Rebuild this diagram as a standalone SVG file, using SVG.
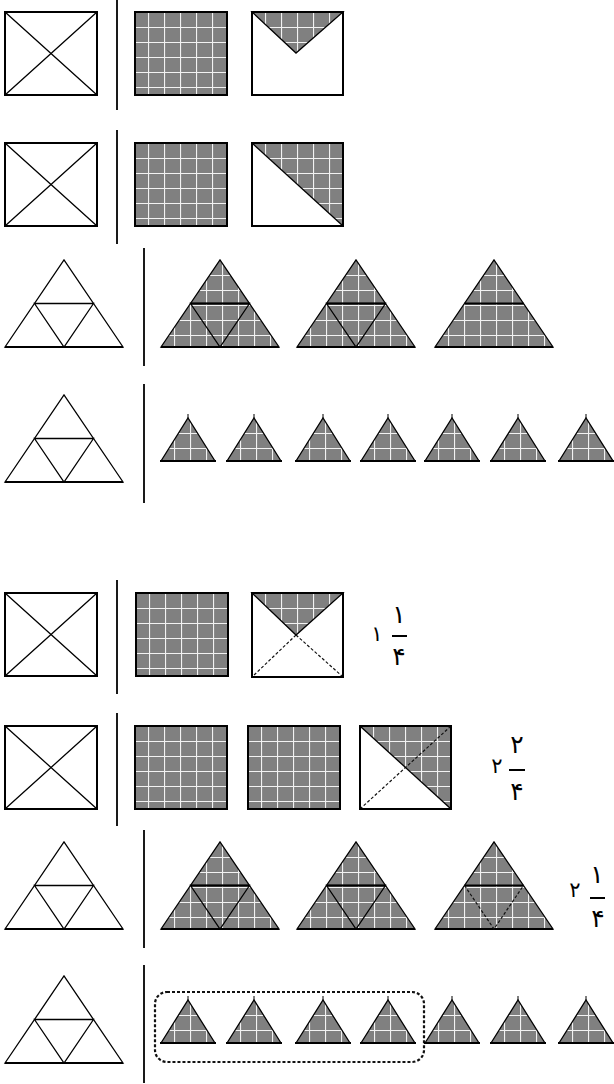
<svg xmlns="http://www.w3.org/2000/svg" xmlns:xlink="http://www.w3.org/1999/xlink" width="614" height="1084" viewBox="0 0 614 1084">
<style>
.ol{fill:none;stroke:#000;stroke-width:2}
.th{fill:none;stroke:#000;stroke-width:1.3}
.gf{fill:url(#grid)}
.wf{fill:#fff}
.ds{fill:none;stroke:#111;stroke-width:1.2;stroke-dasharray:3 2}
.dv{stroke:#1a1a1a;stroke-width:2}
.num{font-family:"DejaVu Sans","Noto Sans",sans-serif;font-size:25px;fill:#000;text-anchor:middle}
.bar{stroke:#000;stroke-width:2}
</style>
<defs>
<pattern id="grid" patternUnits="userSpaceOnUse" width="16" height="15" x="-3" y="0">
<rect width="16" height="15" fill="#808080"/>
<path d="M0.5 0V15M0 0.5H16" stroke="#f2f2f2" stroke-width="1.2"/>
</pattern>
<g id="sqX">
<rect x="0" y="0" width="92" height="83" fill="#fff"/>
<rect x="0" y="0" width="92" height="83" class="ol"/>
<path d="M0 0L92 83M92 0L0 83" class="th"/>
</g>
<g id="sqG">
<rect x="0" y="0" width="92" height="83" fill="url(#grid)" stroke="#000" stroke-width="2"/>
</g>
<g id="bigT">
<polygon points="0,87 59,0 118,87" fill="#fff" stroke="#000" stroke-width="1.3"/>
<path d="M29.5 43.5H88.5L59 87Z" class="th"/>
<path d="M0 87H118" stroke="#000" stroke-width="1.8"/>
</g>
<g id="gT">
<polygon points="0,87 59,0 118,87" fill="url(#grid)" stroke="#000" stroke-width="1.3"/>
<path d="M0 87H118" stroke="#000" stroke-width="2"/>
</g>
<g id="gTfull">
<use xlink:href="#gT"/>
<path d="M29.5 43.5H88.5L59 87Z" class="th"/>
<path d="M29.5 43.5H88.5" stroke="#000" stroke-width="1.8"/>
</g>
<g id="smT">
<polygon points="0,43 27,0 54,43" fill="url(#grid)" stroke="#000" stroke-width="1.3"/>
<path d="M27 0V-4" stroke="#000" stroke-width="1"/>
<path d="M-1 43H55" stroke="#000" stroke-width="2"/>
</g>
</defs>
<rect width="614" height="1084" fill="#fff"/>

<g id="dividers">
<line x1="117" y1="0" x2="117" y2="110" class="dv"/>
<line x1="117" y1="130" x2="117" y2="244" class="dv"/>
<line x1="144" y1="248" x2="144" y2="366" class="dv"/>
<line x1="144" y1="384" x2="144" y2="503" class="dv"/>
<line x1="117" y1="580" x2="117" y2="694" class="dv"/>
<line x1="117" y1="713" x2="117" y2="826" class="dv"/>
<line x1="144" y1="830" x2="144" y2="948" class="dv"/>
<line x1="144" y1="965" x2="144" y2="1083" class="dv"/>
</g>

<!-- Row 1 -->
<g id="r1-whole" transform="translate(5,12)"><use xlink:href="#sqX"/></g>
<g id="r1-full" transform="translate(135,12)"><use xlink:href="#sqG"/></g>
<g id="r1-part" transform="translate(252,12)">
<rect x="0" y="0" width="91" height="83" fill="#fff"/>
<polygon points="0,0 91,0 44,41" fill="url(#grid)" stroke="#000" stroke-width="1.3"/>
<rect x="0" y="0" width="91" height="83" class="ol"/>
</g>

<!-- Row 2 -->
<g id="r2-whole" transform="translate(5,143)"><use xlink:href="#sqX"/></g>
<g id="r2-full" transform="translate(135,143)"><use xlink:href="#sqG"/></g>
<g id="r2-part" transform="translate(252,143)">
<rect x="0" y="0" width="91" height="83" fill="#fff"/>
<polygon points="0,0 91,0 91,83" fill="url(#grid)"/>
<path d="M0 0L91 83" class="th"/>
<rect x="0" y="0" width="91" height="83" class="ol"/>
</g>

<!-- Row 3 -->
<g id="r3-whole" transform="translate(5,260)"><use xlink:href="#bigT"/></g>
<g id="r3-t1" transform="translate(161,260)"><use xlink:href="#gTfull"/></g>
<g id="r3-t2" transform="translate(297,260)"><use xlink:href="#gTfull"/></g>
<g id="r3-t3" transform="translate(435,260)"><use xlink:href="#gT"/><path d="M29.5 43.5H88.5" stroke="#000" stroke-width="1.8"/></g>

<!-- Row 4 -->
<g id="r4-whole" transform="translate(5,395)"><use xlink:href="#bigT"/></g>
<g id="r4-s1" transform="translate(161,418)"><use xlink:href="#smT"/></g>
<g id="r4-s2" transform="translate(227,418)"><use xlink:href="#smT"/></g>
<g id="r4-s3" transform="translate(296,418)"><use xlink:href="#smT"/></g>
<g id="r4-s4" transform="translate(361,418)"><use xlink:href="#smT"/></g>
<g id="r4-s5" transform="translate(425,418)"><use xlink:href="#smT"/></g>
<g id="r4-s6" transform="translate(491,418)"><use xlink:href="#smT"/></g>
<g id="r4-s7" transform="translate(559,418)"><use xlink:href="#smT"/></g>

<!-- Row 5 -->
<g id="r5-whole" transform="translate(5,593)"><use xlink:href="#sqX"/></g>
<g id="r5-full" transform="translate(136,593)"><use xlink:href="#sqG"/></g>
<g id="r5-part" transform="translate(252,593)">
<rect x="0" y="0" width="91" height="84" fill="#fff"/>
<polygon points="0,0 91,0 44,42" fill="url(#grid)" stroke="#000" stroke-width="1.3"/>
<path d="M44 42L0 84M44 42L91 84" class="ds"/>
<rect x="0" y="0" width="91" height="84" class="ol"/>
</g>
<g id="r5-frac">
<text x="377" y="641" class="num" style="font-size:21px">۱</text>
<text x="399" y="623" class="num">۱</text>
<line x1="392" y1="636" x2="407" y2="636" class="bar"/>
<text x="399" y="665" class="num">۴</text>
</g>

<!-- Row 6 -->
<g id="r6-whole" transform="translate(5,726)"><use xlink:href="#sqX"/></g>
<g id="r6-full1" transform="translate(135,726)"><use xlink:href="#sqG"/></g>
<g id="r6-full2" transform="translate(248,726)"><use xlink:href="#sqG"/></g>
<g id="r6-part" transform="translate(360,726)">
<rect x="0" y="0" width="91" height="83" fill="#fff"/>
<polygon points="0,0 91,0 91,83" fill="url(#grid)"/>
<path d="M0 83L91 0" class="ds"/>
<path d="M0 0L91 83" class="th"/>
<rect x="0" y="0" width="91" height="83" class="ol"/>
</g>
<g id="r6-frac">
<text x="497" y="773" class="num" style="font-size:21px">۲</text>
<text x="517" y="753" class="num">۲</text>
<line x1="509" y1="770" x2="525" y2="770" class="bar"/>
<text x="517" y="800" class="num">۴</text>
</g>

<!-- Row 7 -->
<g id="r7-whole" transform="translate(5,842)"><use xlink:href="#bigT"/></g>
<g id="r7-t1" transform="translate(161,842)"><use xlink:href="#gTfull"/></g>
<g id="r7-t2" transform="translate(297,842)"><use xlink:href="#gTfull"/></g>
<g id="r7-t3" transform="translate(435,842)"><use xlink:href="#gT"/><path d="M29.5 43.5L59 87L88.5 43.5" class="ds"/><path d="M29.5 43.5H88.5" stroke="#000" stroke-width="1.8"/></g>
<g id="r7-frac">
<text x="575" y="897" class="num" style="font-size:21px">۲</text>
<text x="597" y="883" class="num">۱</text>
<line x1="590" y1="898" x2="605" y2="898" class="bar"/>
<text x="598" y="927" class="num">۴</text>
</g>

<!-- Row 8 -->
<g id="r8-whole" transform="translate(5,976)"><use xlink:href="#bigT"/></g>
<g id="r8-group">
<rect x="155" y="992" width="269" height="70" rx="12" ry="12" fill="none" stroke="#111" stroke-width="2.2" stroke-dasharray="3 2"/>
</g>
<g id="r8-s1" transform="translate(161,1000)"><use xlink:href="#smT"/></g>
<g id="r8-s2" transform="translate(227,1000)"><use xlink:href="#smT"/></g>
<g id="r8-s3" transform="translate(296,1000)"><use xlink:href="#smT"/></g>
<g id="r8-s4" transform="translate(361,1000)"><use xlink:href="#smT"/></g>
<g id="r8-s5" transform="translate(425,1000)"><use xlink:href="#smT"/></g>
<g id="r8-s6" transform="translate(491,1000)"><use xlink:href="#smT"/></g>
<g id="r8-s7" transform="translate(559,1000)"><use xlink:href="#smT"/></g>
</svg>
